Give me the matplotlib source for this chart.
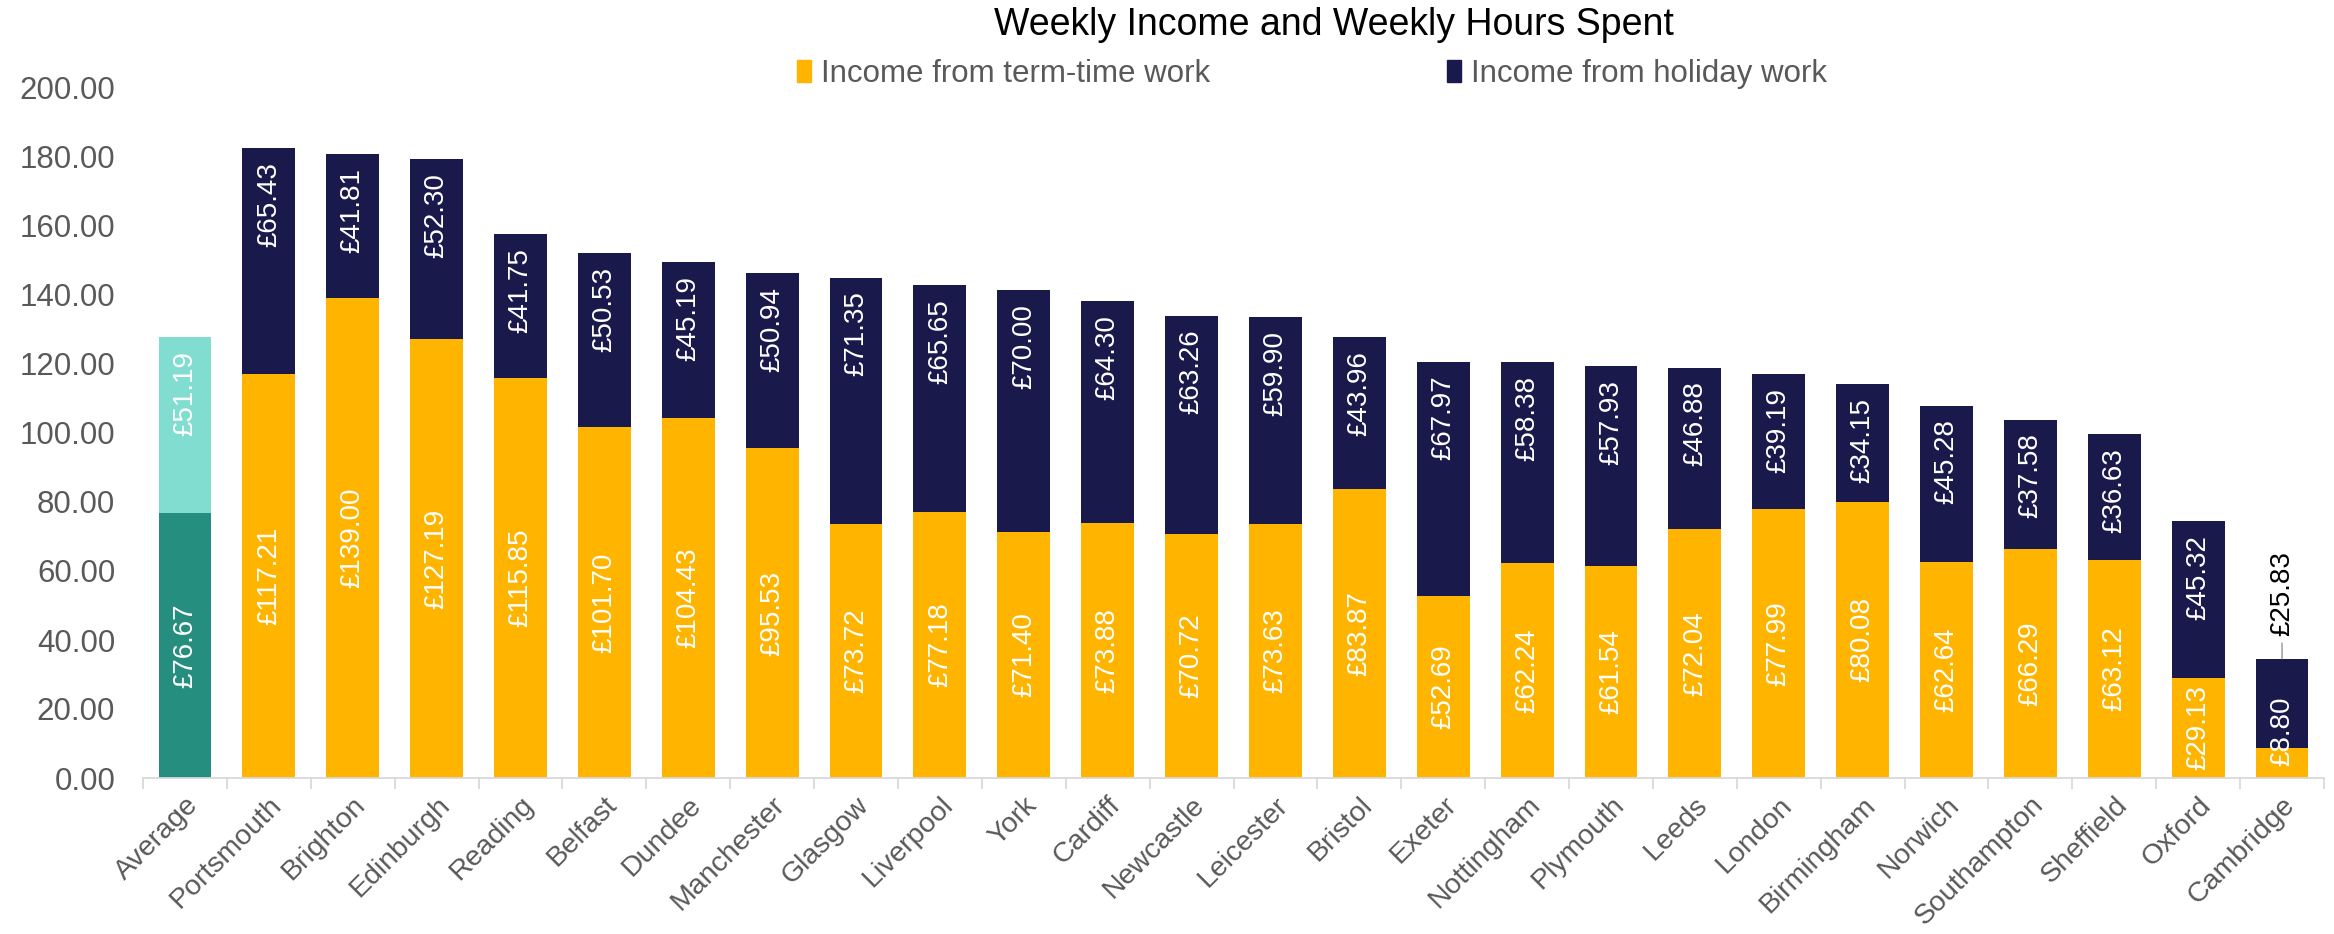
import matplotlib
matplotlib.use("Agg")
import matplotlib.pyplot as plt
from matplotlib.patches import Patch
import numpy as np

plt.rcParams['font.family'] = ['Liberation Sans', 'DejaVu Sans']

# data
cities = ['Average', 'Portsmouth', 'Brighton', 'Edinburgh', 'Reading', 'Belfast',
          'Dundee', 'Manchester', 'Glasgow', 'Liverpool', 'York', 'Cardiff',
          'Newcastle', 'Leicester', 'Bristol', 'Exeter', 'Nottingham', 'Plymouth',
          'Leeds', 'London', 'Birmingham', 'Norwich', 'Southampton', 'Sheffield',
          'Oxford', 'Cambridge']
term_time = [76.67, 117.21, 139.00, 127.19, 115.85, 101.70, 104.43, 95.53, 73.72,
             77.18, 71.40, 73.88, 70.72, 73.63, 83.87, 52.69, 62.24, 61.54, 72.04,
             77.99, 80.08, 62.64, 66.29, 63.12, 29.13, 8.80]
holiday = [51.19, 65.43, 41.81, 52.30, 41.75, 50.53, 45.19, 50.94, 71.35, 65.65,
           70.00, 64.30, 63.26, 59.90, 43.96, 67.97, 58.38, 57.93, 46.88, 39.19,
           34.15, 45.28, 37.58, 36.63, 45.32, 25.83]
y_ticks = [0, 20, 40, 60, 80, 100, 120, 140, 160, 180, 200]

yellow = '#ffb400'
navy = '#1a194b'
teal = '#268e7e'
light_teal = '#80ddd0'
grey_text = '#595959'

fig = plt.figure(figsize=(23.34, 9.34), dpi=100)
ax = fig.add_axes([143 / 2334, 1 - 778 / 934, (2324 - 143) / 2334, (778 - 88) / 934])

x = np.arange(len(cities))
term_colors = [teal] + [yellow] * (len(cities) - 1)
hol_colors = [light_teal] + [navy] * (len(cities) - 1)
ax.bar(x, term_time, width=0.63, color=term_colors)
ax.bar(x, holiday, width=0.63, bottom=term_time, color=hol_colors)

# labels
for i in range(len(cities)):
    t = term_time[i]
    h = holiday[i]
    if t < 25:
        ax.annotate('£%.2f' % t, (i, 0), xytext=(0, 9), textcoords='offset points',
                    rotation=90, ha='center', va='bottom', color='white', fontsize=20)
    else:
        ax.text(i, t / 2, '£%.2f' % t, rotation=90, ha='center', va='center',
                color='white', fontsize=20)
    if h < 30:
        ax.annotate('£%.2f' % h, (i, t + h), xytext=(0, 16), textcoords='offset points',
                    rotation=90, ha='center', va='bottom', color='black', fontsize=20,
                    arrowprops=dict(arrowstyle='-', color='#a6a6a6', lw=1.2,
                                    shrinkA=3, shrinkB=0))
    else:
        ax.annotate('£%.2f' % h, (i, t + h), xytext=(0, -10), textcoords='offset points',
                    rotation=90, ha='center', va='top', color='white', fontsize=20)

ax.set_xlim(-0.5, len(cities) - 0.5)
ax.set_ylim(0, 200)
ax.set_yticks(y_ticks)
ax.set_yticklabels(['%.2f' % v for v in y_ticks])
ax.tick_params(axis='y', length=0, pad=20, labelsize=22.5, labelcolor=grey_text)

ax.set_xticks(x)
ax.set_xticklabels(cities, rotation=45, ha='right', va='top', rotation_mode='anchor')
ax.tick_params(axis='x', length=0, pad=10, labelsize=20.5, labelcolor=grey_text)
ax.set_xticks(np.arange(-0.5, len(cities)), minor=True)
ax.tick_params(axis='x', which='minor', length=8, width=1.3, color='#d9d9d9')

for s in ['top', 'right', 'left']:
    ax.spines[s].set_visible(False)
ax.spines['bottom'].set_color('#d9d9d9')
ax.spines['bottom'].set_linewidth(1.3)

fig.text(1334 / 2334, 1 - 25 / 934, 'Weekly Income and Weekly Hours Spent',
         ha='center', va='center', fontsize=27, color='black')

handles = [Patch(color=yellow, label='Income from term-time work'),
           Patch(color=navy, label='Income from holiday work')]
fig.legend(handles=handles, loc='center', bbox_to_anchor=(1312 / 2334, 1 - 74 / 934),
           ncol=2, frameon=False, fontsize=22.5, labelcolor=grey_text,
           handlelength=0.45, handleheight=0.7, handletextpad=0.3,
           columnspacing=7.6, borderpad=0)

fig.savefig('out.png', dpi=100)
